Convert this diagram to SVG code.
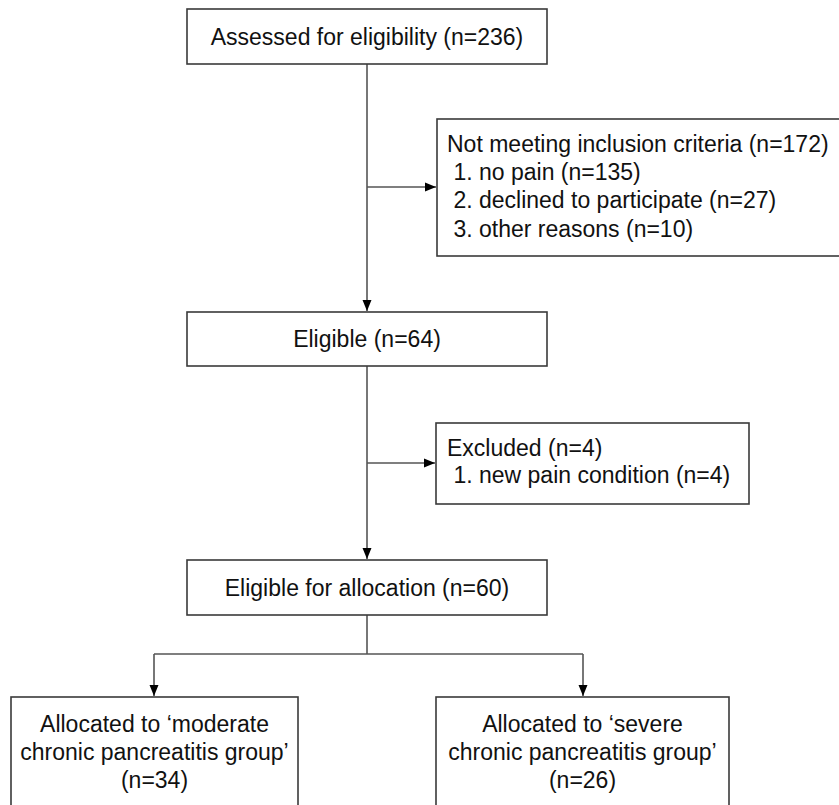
<svg xmlns="http://www.w3.org/2000/svg" width="839" height="805" viewBox="0 0 839 805">
<defs>
<style>
.box{fill:#fff;stroke:#3a3a3a;stroke-width:1.6}
.t{font-family:"Liberation Sans",Arial,sans-serif;font-size:23px;fill:#111}
.c{text-anchor:middle}
.ln{stroke:#555;stroke-width:1.6;fill:none}
</style>
<marker id="ah" markerUnits="userSpaceOnUse" markerWidth="12" markerHeight="10" refX="11" refY="5" orient="auto">
<polygon points="0,0.5 11,5 0,9.5" fill="#000"/>
</marker>
</defs>
<rect width="839" height="805" fill="#fff"/>
<g id="connectors">
<line class="ln" x1="367" y1="64" x2="367" y2="311" marker-end="url(#ah)"/>
<line class="ln" x1="367" y1="187" x2="436" y2="187" marker-end="url(#ah)"/>
<line class="ln" x1="367" y1="366" x2="367" y2="559" marker-end="url(#ah)"/>
<line class="ln" x1="367" y1="463" x2="435" y2="463" marker-end="url(#ah)"/>
<line class="ln" x1="367" y1="615" x2="367" y2="654"/>
<line class="ln" x1="154" y1="654" x2="583" y2="654"/>
<line class="ln" x1="154" y1="654" x2="154" y2="696" marker-end="url(#ah)"/>
<line class="ln" x1="583" y1="654" x2="583" y2="696" marker-end="url(#ah)"/>
</g>
<g id="assessed">
<rect class="box" x="187" y="9" width="360" height="55"/>
<text class="t c" x="367" y="45">Assessed for eligibility (n=236)</text>
</g>
<g id="not-meeting">
<rect class="box" x="437" y="119" width="420" height="137"/>
<text class="t" x="447" y="152">Not meeting inclusion criteria (n=172)</text>
<text class="t" x="447" y="180" xml:space="preserve"> 1. no pain (n=135)</text>
<text class="t" x="447" y="208" xml:space="preserve"> 2. declined to participate (n=27)</text>
<text class="t" x="447" y="237" xml:space="preserve"> 3. other reasons (n=10)</text>
</g>
<g id="eligible">
<rect class="box" x="187" y="312" width="360" height="54"/>
<text class="t c" x="367" y="347">Eligible (n=64)</text>
</g>
<g id="excluded">
<rect class="box" x="436" y="423" width="313" height="81"/>
<text class="t" x="447" y="456">Excluded (n=4)</text>
<text class="t" x="447" y="483" xml:space="preserve"> 1. new pain condition (n=4)</text>
</g>
<g id="allocation">
<rect class="box" x="187" y="560" width="360" height="55"/>
<text class="t c" x="367" y="596">Eligible for allocation (n=60)</text>
</g>
<g id="moderate">
<rect class="box" x="11" y="697" width="287" height="130"/>
<text class="t c" x="154.5" y="732">Allocated to ‘moderate</text>
<text class="t c" x="154.5" y="760">chronic pancreatitis group’</text>
<text class="t c" x="154.5" y="788">(n=34)</text>
</g>
<g id="severe">
<rect class="box" x="436" y="697" width="293" height="130"/>
<text class="t c" x="582.5" y="732">Allocated to ‘severe</text>
<text class="t c" x="582.5" y="760">chronic pancreatitis group’</text>
<text class="t c" x="582.5" y="788">(n=26)</text>
</g>
</svg>
